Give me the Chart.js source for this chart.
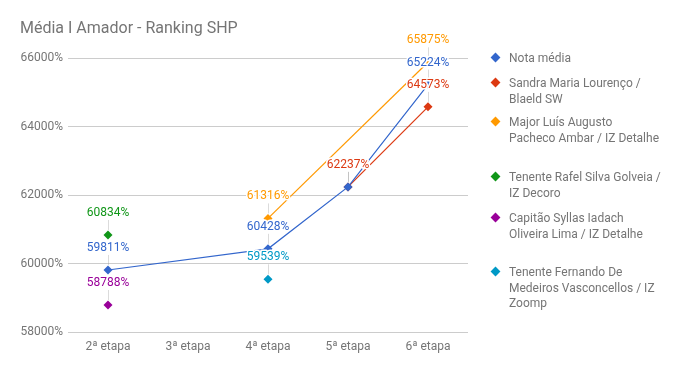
<!DOCTYPE html>
<html>
<head>
<meta charset="utf-8">
<script src="https://cdn.jsdelivr.net/npm/chart.js@4.4.1/dist/chart.umd.min.js"></script>
<style>
  html, body { margin: 0; padding: 0; background: #fff; }
  #wrap { position: relative; width: 681px; height: 371px; font-family: Roboto, sans-serif; }
  #c { position: absolute; left: 0; top: 0; }
  #title { position: absolute; left: 20px; top: 18px; font-size: 16px; color: #757575; line-height: 20px; white-space: nowrap; }
  .lg { position: absolute; left: 509px; font-size: 12px; color: #757575; line-height: 15.5px; white-space: nowrap; }
  .dm { position: absolute; left: -17px; top: 3px; width: 7px; height: 7px; transform: rotate(45deg); }
</style>
</head>
<body>
<div id="wrap">
  <canvas id="c" width="681" height="371"></canvas>
  <div id="title">Média I Amador - Ranking SHP</div>
  <div id="legend"></div>
</div>
<script>
const categories = ['2ª etapa', '3ª etapa', '4ª etapa', '5ª etapa', '6ª etapa'];
const seriesNames = [
  'Nota média',
  'Sandra Maria Lourenço / Blaeld SW',
  'Major Luís Augusto Pacheco Ambar / IZ Detalhe',
  'Tenente Rafel Silva Golveia / IZ Decoro',
  'Capitão Syllas Iadach Oliveira Lima / IZ Detalhe',
  'Tenente Fernando De Medeiros Vasconcellos / IZ Zoomp'
];
const legendLines = [
  ['Nota média'],
  ['Sandra Maria Lourenço /', 'Blaeld SW'],
  ['Major Luís Augusto', 'Pacheco Ambar / IZ Detalhe'],
  ['Tenente Rafel Silva Golveia /', 'IZ Decoro'],
  ['Capitão Syllas Iadach', 'Oliveira Lima / IZ Detalhe'],
  ['Tenente Fernando De', 'Medeiros Vasconcellos / IZ', 'Zoomp']
];
const notaMedia = [59811, null, 60428, 62237, 65224];
const sandra    = [null, null, null, 62237, 64573];
const major     = [null, null, 61316, null, 65875];
const rafel     = [60834, null, null, null, null];
const syllas    = [58788, null, null, null, null];
const fernando  = [null, null, 59539, null, null];
const yTicks = [58000, 60000, 62000, 64000, 66000];
const colors = ['#3366cc', '#dc3912', '#ff9900', '#109618', '#990099', '#0099c6'];
const allSeries = [notaMedia, sandra, major, rafel, syllas, fernando];

// legend
const legendTops = [51, 76, 115, 170, 211, 265];
const lg = document.getElementById('legend');
legendLines.forEach((lines, i) => {
  const d = document.createElement('div');
  d.className = 'lg';
  d.style.top = legendTops[i] + 'px';
  d.innerHTML = '<span class="dm" style="background:' + colors[i] + '"></span>' + lines.join('<br>');
  lg.appendChild(d);
});

const labelPlugin = {
  id: 'valueLabels',
  afterDatasetsDraw(chart) {
    const ctx = chart.ctx;
    const xs = chart.scales.x, ys = chart.scales.y;
    ctx.save();
    ctx.font = '12px Roboto, sans-serif';
    ctx.textAlign = 'center';
    ctx.textBaseline = 'middle';
    allSeries.forEach((arr, si) => {
      arr.forEach((v, i) => {
        if (v === null) return;
        const x = xs.getPixelForValue(i), y = ys.getPixelForValue(v);
        ctx.strokeStyle = 'rgba(153,153,153,0.35)';
        ctx.lineWidth = 1;
        ctx.beginPath();
        ctx.moveTo(x + 0.5, y - 22 + 7);
        ctx.lineTo(x + 0.5, y - 5);
        ctx.stroke();
      });
    });
    allSeries.forEach((arr, si) => {
      arr.forEach((v, i) => {
        if (v === null) return;
        const x = xs.getPixelForValue(i), y = ys.getPixelForValue(v);
        const t = v + '%';
        ctx.lineWidth = 3;
        ctx.strokeStyle = '#ffffff';
        ctx.lineJoin = 'round';
        ctx.strokeText(t, x, y - 22);
        ctx.fillStyle = colors[si];
        ctx.fillText(t, x, y - 22);
      });
    });
    ctx.restore();
  }
};

new Chart(document.getElementById('c'), {
  type: 'line',
  data: {
    labels: categories,
    datasets: allSeries.map((arr, i) => ({
      label: seriesNames[i],
      data: arr,
      borderColor: colors[i],
      backgroundColor: colors[i],
      borderWidth: 1.2,
      pointStyle: 'rectRot',
      pointRadius: 4.5,
      pointHoverRadius: 4.5,
      pointBorderWidth: 0,
      spanGaps: true,
      tension: 0
    }))
  },
  options: {
    responsive: false,
    animation: false,
    devicePixelRatio: 1,
    layout: { padding: { top: 58, right: 213, left: 0, bottom: 0 } },
    plugins: { legend: { display: false }, title: { display: false }, tooltip: { enabled: false } },
    scales: {
      x: {
        offset: true,
        grid: { display: false, drawTicks: false },
        border: { display: false },
        ticks: { color: '#757575', font: { family: 'Roboto', size: 12 }, padding: 8, maxRotation: 0 },
        afterFit(s) { s.height = 39; }
      },
      y: {
        min: 58000, max: 66000,
        afterBuildTicks(s) { s.ticks = yTicks.map(v => ({ value: v })); },
        grid: { color: '#cccccc', drawTicks: false, lineWidth: 1 },
        border: { display: false },
        ticks: { color: '#757575', font: { family: 'Roboto', size: 12 }, padding: 5, callback: v => v + '%' },
        afterFit(s) { s.width = 68; }
      }
    }
  },
  plugins: [labelPlugin]
});
</script>
</body>
</html>
